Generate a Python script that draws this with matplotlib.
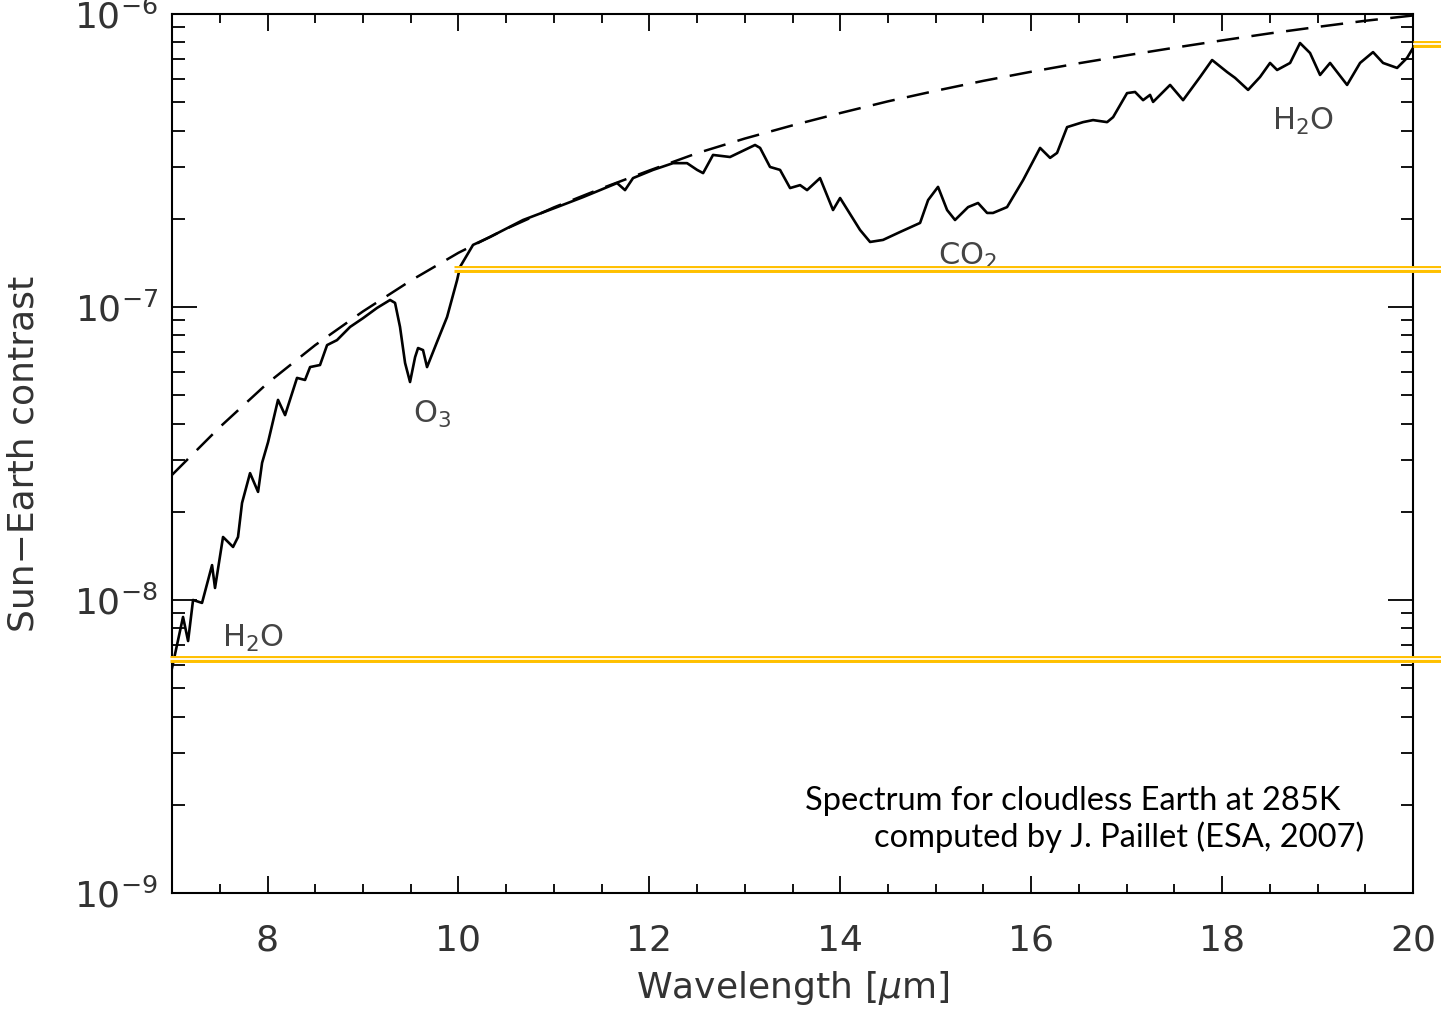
import numpy as np
import matplotlib
matplotlib.use('Agg')
import matplotlib.pyplot as plt
from matplotlib.ticker import MultipleLocator, LogLocator, NullFormatter

# spectrum: wavelength [um], log10(contrast)
spec_wl = [7.000, 7.115, 7.168, 7.220, 7.314, 7.419, 7.450, 7.534, 7.639, 7.691,
           7.733, 7.817, 7.901, 7.943, 8.006, 8.110, 8.184, 8.309, 8.393, 8.446,
           8.550, 8.624, 8.728, 8.865, 9.001, 9.148, 9.284, 9.336, 9.388, 9.441,
           9.493, 9.546, 9.577, 9.629, 9.671, 9.776, 9.881, 9.986, 10.017, 10.153,
           10.331, 10.677, 11.033, 11.305, 11.662, 11.745, 11.829, 12.039, 12.248, 12.395,
           12.500, 12.563, 12.667, 12.845, 13.107, 13.160, 13.264, 13.369, 13.474, 13.579,
           13.652, 13.788, 13.924, 13.998, 14.207, 14.312, 14.448, 14.626, 14.836, 14.920,
           15.024, 15.119, 15.202, 15.339, 15.443, 15.538, 15.600, 15.747, 15.915, 16.093,
           16.198, 16.271, 16.376, 16.543, 16.648, 16.795, 16.858, 17.004, 17.088, 17.172,
           17.245, 17.277, 17.455, 17.591, 17.769, 17.895, 18.052, 18.136, 18.272, 18.397,
           18.502, 18.576, 18.712, 18.816, 18.921, 19.026, 19.131, 19.309, 19.445, 19.581,
           19.686, 19.833, 19.937, 20.000]
spec_log = [-8.232, -8.058, -8.140, -8.000, -8.010, -7.881, -7.959, -7.785, -7.819, -7.785,
            -7.669, -7.567, -7.631, -7.532, -7.461, -7.317, -7.369, -7.242, -7.249, -7.205,
            -7.198, -7.130, -7.113, -7.068, -7.038, -7.003, -6.976, -6.986, -7.068, -7.191,
            -7.256, -7.171, -7.140, -7.147, -7.205, -7.119, -7.034, -6.908, -6.863, -6.788,
            -6.761, -6.703, -6.659, -6.625, -6.577, -6.601, -6.560, -6.532, -6.509, -6.509,
            -6.532, -6.543, -6.481, -6.488, -6.447, -6.457, -6.522, -6.532, -6.594, -6.584,
            -6.601, -6.560, -6.669, -6.628, -6.737, -6.778, -6.771, -6.744, -6.713, -6.635,
            -6.590, -6.669, -6.703, -6.659, -6.645, -6.679, -6.679, -6.659, -6.567, -6.457,
            -6.491, -6.474, -6.386, -6.369, -6.362, -6.369, -6.352, -6.270, -6.266, -6.294,
            -6.276, -6.300, -6.242, -6.294, -6.215, -6.157, -6.198, -6.218, -6.259, -6.215,
            -6.167, -6.191, -6.167, -6.099, -6.133, -6.208, -6.167, -6.242, -6.167, -6.130,
            -6.167, -6.184, -6.150, -6.116]

# dashed envelope (no atmosphere), read every 0.5 um
bb_wl = [7.0, 7.5, 8.0, 8.5, 9.0, 9.5, 10.0, 10.5, 11.0, 11.5, 12.0, 12.5, 13.0,
         13.5, 14.0, 14.5, 15.0, 15.5, 16.0, 16.5, 17.0, 17.5, 18.0, 18.5, 19.0,
         19.5, 20.0]
bb_log = [-7.573, -7.410, -7.260, -7.130, -7.015, -6.910, -6.815, -6.733, -6.660,
          -6.595, -6.534, -6.475, -6.425, -6.380, -6.338, -6.298, -6.262, -6.228,
          -6.197, -6.168, -6.141, -6.115, -6.090, -6.066, -6.044, -6.023, -6.005]

# molecule labels: text, x, log10(y) of baseline
mol_text = ['O$_3$', 'CO$_2$', 'H$_2$O', 'H$_2$O']
mol_x = [9.525, 15.02, 18.52, 7.524]
mol_log = [-7.396, -6.857, -6.396, -8.160]

# yellow double lines: level, start wavelength
band_log = [-6.869, -8.201, -6.102]
band_x0 = [9.95, 6.98, 20.0]

plt.rcParams['font.family'] = 'DejaVu Sans'
tc = '#333333'

fig = plt.figure(figsize=(14.41, 10.09), dpi=100)
ax = fig.add_axes([0.1194, 0.1150, 0.8612, 0.8711])

ax.plot(bb_wl, 10 ** np.array(bb_log), color='black', lw=1.8, ls=(0, (9, 5)))
ax.plot(spec_wl, 10 ** np.array(spec_log), color='black', lw=1.9)

ax.set_yscale('log')
ax.set_xlim(7, 20)
ax.set_ylim(1e-9, 1e-6)

ax.xaxis.set_major_locator(MultipleLocator(2))
ax.xaxis.set_minor_locator(MultipleLocator(0.5))
ax.yaxis.set_major_locator(LogLocator(base=10))
ax.yaxis.set_minor_locator(LogLocator(base=10, subs=np.arange(2, 10)))
ax.yaxis.set_minor_formatter(NullFormatter())

ax.tick_params(axis='both', which='both', direction='in', top=True, right=True,
               colors='black', labelcolor=tc, labelsize=26, width=1.3)
ax.tick_params(axis='x', which='major', length=12, pad=22)
ax.tick_params(axis='x', which='minor', length=6.5)
ax.tick_params(axis='y', which='major', length=18, pad=10)
ax.tick_params(axis='y', which='minor', length=9)
for s in ax.spines.values():
    s.set_linewidth(1.5)

ax.set_xlabel('Wavelength [$\\mu$m]', fontsize=26, color=tc, labelpad=8)
ax.set_ylabel('Sun\u2212Earth contrast', fontsize=26, color=tc, labelpad=24)

for t, x, ly in zip(mol_text, mol_x, mol_log):
    ax.text(x, 10 ** ly, t, fontsize=22, color='#444444', ha='left', va='baseline')

for ly, x0 in zip(band_log, band_x0):
    ax.hlines(10 ** ly, x0, 20.3, color='#FFC000', lw=5, clip_on=False, zorder=5)
    ax.hlines(10 ** ly, x0, 20.3, color='white', lw=1.3, clip_on=False, zorder=6)

fig.text(0.930, 0.197, 'Spectrum for cloudless Earth at 285K',
         ha='right', va='baseline', fontsize=23.5, family=['Lato', 'DejaVu Sans'], color='black')
fig.text(0.947, 0.1605, 'computed by J. Paillet (ESA, 2007)',
         ha='right', va='baseline', fontsize=23.5, family=['Lato', 'DejaVu Sans'], color='black')

fig.savefig('out.png', dpi=100)
